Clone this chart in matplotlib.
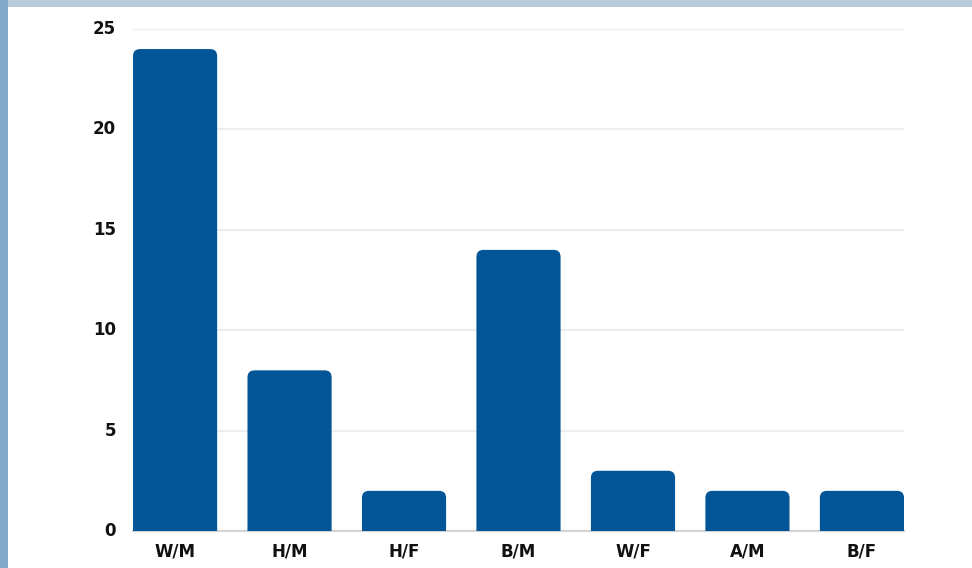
import matplotlib
matplotlib.use("Agg")
import matplotlib.pyplot as plt
import matplotlib.patches as mpatches

plt.rcParams['font.family'] = ['DejaVu Sans']

# data
categories = ['W/M', 'H/M', 'H/F', 'B/M', 'W/F', 'A/M', 'B/F']
counts = [24, 8, 2, 14, 3, 2, 2]
y_ticks = [0, 5, 10, 15, 20, 25]

BAR_COLOR = '#025597'
GRID_COLOR = '#ededed'
BAR_WIDTH = 0.735

W, H = 972, 568
fig = plt.figure(figsize=(W / 100, H / 100), dpi=100)
fig.patch.set_facecolor('#b9cbd9')

# slide background: left blue strip + white panel
fig.add_artist(mpatches.Rectangle((0, 0), 8 / W, 1, transform=fig.transFigure,
                                  facecolor='#82a9c9', edgecolor='none', zorder=0))
fig.add_artist(mpatches.Rectangle((8 / W, 0), 1 - 8 / W, (H - 7) / H,
                                  transform=fig.transFigure,
                                  facecolor='white', edgecolor='none', zorder=0))

ax = fig.add_axes([133 / W, 37 / H, (904 - 133) / W, (531 - 29) / H])
ax.set_facecolor('none')
ax.set_zorder(2)

x = list(range(len(categories)))
ax.set_xlim(-BAR_WIDTH / 2, len(categories) - 1 + BAR_WIDTH / 2)
ax.set_ylim(0, 25)

# rounded-top bars (bottom corners pushed below y=0 and clipped)
px_x = (904 - 133) / (ax.get_xlim()[1] - ax.get_xlim()[0])
px_y = (531 - 29) / 25
aspect = px_x / px_y
r = 7 / px_x
for xi, v in zip(x, counts):
    box = mpatches.FancyBboxPatch(
        (xi - BAR_WIDTH / 2, -1), BAR_WIDTH, v + 1,
        boxstyle=f"round,pad=0,rounding_size={r}",
        mutation_aspect=aspect,
        facecolor=BAR_COLOR, edgecolor='none', zorder=3)
    ax.add_patch(box)

for t in y_ticks[1:]:
    ax.axhline(t, color=GRID_COLOR, lw=1.6, zorder=1)
ax.axhline(0, color='#d4d4d4', lw=1.6, zorder=2, clip_on=False)

ax.set_xticks(x)
ax.set_xticklabels(categories, fontsize=12, fontweight='bold', color='#111111')
ax.set_yticks(y_ticks)
ax.set_yticklabels([str(t) for t in y_ticks], fontsize=12, fontweight='bold',
                   color='#111111', va='center')
ax.tick_params(axis='both', length=0)
ax.tick_params(axis='y', pad=18)
ax.tick_params(axis='x', pad=8)
for s in ax.spines.values():
    s.set_visible(False)
for lab in ax.get_yticklabels():
    lab.set_x(-0.022)
ax.tick_params(axis='y', pad=0)

fig.savefig('out.png', dpi=100, facecolor=fig.get_facecolor())
